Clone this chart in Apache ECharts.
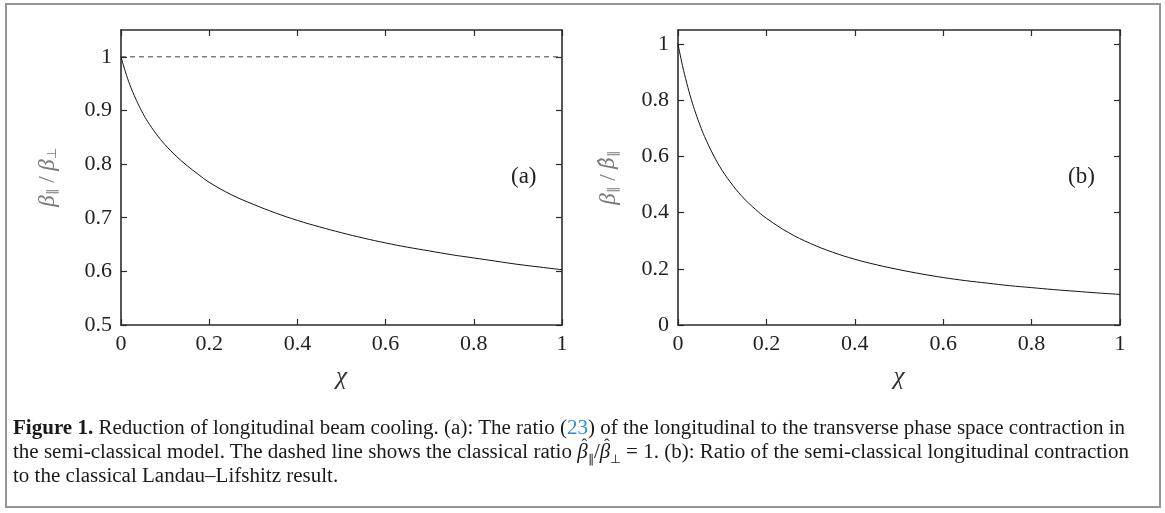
<!DOCTYPE html>
<html>
<head>
<meta charset="utf-8">
<script src="https://cdn.jsdelivr.net/npm/echarts@6/dist/echarts.min.js"></script>
<style>
  html, body { margin: 0; padding: 0; background: #fff; }
  #wrap { position: relative; width: 1165px; height: 513px; overflow: hidden; }
  #chart { position: absolute; left: 0; top: 0; width: 1165px; height: 513px; }
  #frame { position: absolute; left: 5px; top: 3px; width: 1152px; height: 501px; border: 2px solid #949494; pointer-events: none; }
  .cap { position: absolute; left: 13px; white-space: nowrap; font-family: "Liberation Serif", serif; font-size: 20px; color: #1a1a1a; transform-origin: 0 50%; }
  .cap b { font-weight: bold; }
  .cap .ref { color: #2f8ccc; }
  .cap sub { font-size: 12px; }
  .hat { position: relative; display: inline-block; }
  .hat .h { position: absolute; left: 4px; top: -3px; font-style: normal; font-size: 16px; line-height: 16px; }
</style>
</head>
<body>
<div id="wrap">
  <div id="chart"></div>
  <div id="frame"></div>
  <div class="cap" id="l1" style="top:416px"><b>Figure 1.</b> Reduction of longitudinal beam cooling. (a): The ratio (<span class="ref">23</span>) of the longitudinal to the transverse phase space contraction in</div>
  <div class="cap" id="l2" style="top:440px">the semi-classical model. The dashed line shows the classical ratio <span class="hat"><i>β</i><span class="h">ˆ</span></span><sub>∥</sub>/<span class="hat"><i>β</i><span class="h">ˆ</span></span><sub>⊥</sub> = 1. (b): Ratio of the semi-classical longitudinal contraction</div>
  <div class="cap" id="l3" style="top:464px">to the classical Landau–Lifshitz result.</div>
</div>
<script>
// ---- data ----
const chiValues = [0, 0.01, 0.02, 0.03, 0.04, 0.05, 0.06, 0.08, 0.1, 0.125, 0.15, 0.175, 0.2, 0.25, 0.3, 0.35, 0.4, 0.45, 0.5, 0.55, 0.6, 0.65, 0.7, 0.75, 0.8, 0.85, 0.9, 0.95, 1.0];
const ratioA = [1.0, 0.972, 0.948, 0.928, 0.910, 0.894, 0.880, 0.856, 0.836, 0.815, 0.797, 0.781, 0.766, 0.743, 0.725, 0.709, 0.695, 0.683, 0.672, 0.662, 0.653, 0.645, 0.638, 0.631, 0.625, 0.619, 0.613, 0.608, 0.603];
const ratioB = [1.0, 0.924, 0.860, 0.803, 0.754, 0.710, 0.671, 0.605, 0.550, 0.495, 0.449, 0.412, 0.380, 0.329, 0.290, 0.259, 0.234, 0.214, 0.197, 0.182, 0.169, 0.158, 0.149, 0.140, 0.133, 0.126, 0.120, 0.114, 0.109];
const classicalRatio = [[0, 1], [1, 1]];
const xTicks = [0, 0.2, 0.4, 0.6, 0.8, 1];
const yTicksA = [0.5, 0.6, 0.7, 0.8, 0.9, 1];
const yTicksB = [0, 0.2, 0.4, 0.6, 0.8, 1];
const panelLabels = ['(a)', '(b)'];
const xName = 'χ';

const pairs = (xs, ys) => xs.map((x, i) => [x, ys[i]]);

const FONT = 'Liberation Serif';
const AX = '#2b2b2b';
const lineStyle = { color: AX, width: 1.6 };

function mkX(gi, pos, show) {
  return {
    type: 'value', gridIndex: gi, position: pos, min: 0, max: 1,
    axisLine: { show: true, onZero: false, lineStyle },
    axisTick: { show: true, inside: true, length: 6, lineStyle: { color: AX, width: 1.2 }, customValues: xTicks },
    axisLabel: { show: show, customValues: xTicks, fontFamily: FONT, fontSize: 22, color: '#222', margin: 8 },
    splitLine: { show: false },
    name: show ? xName : '', nameLocation: 'middle', nameGap: 40,
    nameTextStyle: { fontFamily: FONT, fontStyle: 'italic', fontSize: 25, color: '#333' }
  };
}
function mkY(gi, pos, show, min, ticks, nameRich, gap) {
  return {
    type: 'value', gridIndex: gi, position: pos, min: min, max: 1.05,
    axisLine: { show: true, onZero: false, lineStyle },
    axisTick: { show: true, inside: true, length: 6, lineStyle: { color: AX, width: 1.2 }, customValues: ticks },
    axisLabel: { show: show, customValues: ticks, fontFamily: FONT, fontSize: 22, color: '#222', margin: 9 },
    splitLine: { show: false },
    name: show ? nameRich : '', nameLocation: 'middle', nameRotate: 90, nameGap: gap,
    nameTextStyle: {
      fontFamily: FONT, fontSize: 22, color: '#7a7a7a',
      rich: {
        b: { fontFamily: FONT, fontStyle: 'italic', fontSize: 23, color: '#7a7a7a', lineHeight: 26 },
        c: { fontFamily: 'DejaVu Serif', fontStyle: 'italic', fontSize: 20, color: '#7a7a7a', lineHeight: 26 },
        s: { fontFamily: FONT, fontSize: 13, color: '#7a7a7a', lineHeight: 26, padding: [10, 0, 0, 0] },
        n: { fontFamily: FONT, fontSize: 23, color: '#7a7a7a', lineHeight: 26 }
      }
    }
  };
}

const chart = echarts.init(document.getElementById('chart'), null, { renderer: 'canvas' });
chart.setOption({
  animation: false,
  backgroundColor: '#fff',
  grid: [
    { left: 121, top: 30, width: 441, height: 295 },
    { left: 678, top: 30, width: 442, height: 295 }
  ],
  xAxis: [mkX(0, 'bottom', true), mkX(0, 'top', false), mkX(1, 'bottom', true), mkX(1, 'top', false)],
  yAxis: [
    mkY(0, 'left', true, 0.5, yTicksA, '{b|β}{s|∥} {n|/} {b|β}{s|⊥}', 60),
    mkY(0, 'right', false, 0.5, yTicksA, '', 0),
    mkY(1, 'left', true, 0, yTicksB, '{b|β}{s|∥} {n|/} {c|β̂}{s|∥}', 56),
    mkY(1, 'right', false, 0, yTicksB, '', 0)
  ],
  series: [
    { type: 'line', xAxisIndex: 0, yAxisIndex: 0, data: classicalRatio, showSymbol: false,
      lineStyle: { color: '#444', width: 1, type: [5, 4] } },
    { type: 'line', xAxisIndex: 0, yAxisIndex: 0, data: pairs(chiValues, ratioA), showSymbol: false, smooth: 0.4,
      lineStyle: { color: '#111', width: 1 } },
    { type: 'line', xAxisIndex: 2, yAxisIndex: 2, data: pairs(chiValues, ratioB), showSymbol: false, smooth: 0.4,
      lineStyle: { color: '#111', width: 1 } }
  ],
  graphic: [
    { type: 'text', left: 511, top: 165, style: { text: panelLabels[0], fontFamily: FONT, fontSize: 23, fill: '#222' } },
    { type: 'text', left: 1068, top: 165, style: { text: panelLabels[1], fontFamily: FONT, fontSize: 23, fill: '#222' } }
  ]
});

// fit caption width: same horizontal scale for all lines, taken from line 1
const l1 = document.getElementById('l1');
const s = 1112 / l1.getBoundingClientRect().width;
document.querySelectorAll('.cap').forEach(el => {
  el.style.transform = 'scaleX(' + s.toFixed(4) + ')';
});
</script>
</body>
</html>
